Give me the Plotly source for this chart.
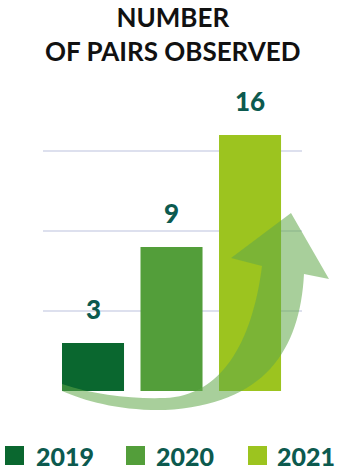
import plotly.graph_objects as go

# Chart data
years = ["2019", "2020", "2021"]
pairs = [3, 9, 16]
bar_colors = ["#0a672f", "#539e3a", "#9cc41f"]
grid_values = [0, 5, 10, 15]

TEAL = "#0c5a4f"
FONT = "Lato"

W, H = 337, 472
L, R, T, B = 43, 35, 100, 81
PLOT_W = W - L - R
PLOT_H = H - T - B


def px(x, y):
    """Convert figure pixel position to paper coordinates."""
    return (x - L) / PLOT_W, (H - B - y) / PLOT_H


def path_from(cmds):
    out = []
    for cmd, pts in cmds:
        coords = " ".join("%.4f,%.4f" % px(*p) for p in pts)
        out.append(cmd + coords)
    return " ".join(out) + " Z"


fig = go.Figure(
    go.Bar(
        x=years,
        y=pairs,
        marker=dict(color=bar_colors, line=dict(width=0)),
        width=0.79,
        showlegend=False,
        hoverinfo="x+y",
    )
)

# Value labels above each bar
for i, v in enumerate(pairs):
    fig.add_annotation(
        x=i, y=v, xref="x", yref="y",
        text=str(v), showarrow=False,
        yanchor="bottom", yshift=16,
        font=dict(family=FONT, size=26, color=TEAL, weight=900),
    )

# Sweeping growth arrow
arrow = path_from([
    ("M", [(62, 384)]),
    ("C", [(95, 395), (130, 399), (165, 398)]),
    ("C", [(220, 396), (252, 345), (262, 266)]),
    ("L", [(231, 258)]),
    ("L", [(291, 213)]),
    ("L", [(329, 279)]),
    ("L", [(304, 274)]),
    ("C", [(300, 350), (265, 405), (165, 410)]),
    ("C", [(120, 411), (85, 401), (62, 391)]),
])
fig.add_shape(
    type="path", path=arrow, xref="paper", yref="paper",
    fillcolor="rgba(96,168,72,0.55)", line=dict(width=0), layer="above",
)

# Legend: coloured squares with year labels
legend_sq_x = [5, 126, 248]
legend_txt_x = [36, 156, 277]
for yr, c, sx, tx in zip(years, bar_colors, legend_sq_x, legend_txt_x):
    x0, y0 = px(sx, 465)
    x1, y1 = px(sx + 19, 446)
    fig.add_shape(type="rect", xref="paper", yref="paper",
                  x0=x0, y0=y0, x1=x1, y1=y1,
                  fillcolor=c, line=dict(width=0))
    ax, ay = px(tx - 2, 456)
    fig.add_annotation(
        x=ax, y=ay, xref="paper", yref="paper",
        text=yr, showarrow=False, xanchor="left", yanchor="middle",
        font=dict(family=FONT, size=25, color=TEAL, weight=900),
    )

# Two-line heading
tx, ty = px(173, -1)
fig.add_annotation(
    x=tx, y=ty, xref="paper", yref="paper",
    text="NUMBER<br>OF PAIRS OBSERVED", showarrow=False,
    xanchor="center", yanchor="top", align="center",
    font=dict(family=FONT, size=26, color="#111111", weight="bold"),
)

fig.update_layout(
    width=W, height=H,
    margin=dict(l=L, r=R, t=T, b=B),
    paper_bgcolor="white", plot_bgcolor="white",
    xaxis=dict(
        type="category",
        range=[-0.637, 2.662], showticklabels=False, showgrid=False,
        zeroline=False, showline=False, ticks="",
    ),
    yaxis=dict(
        range=[0, PLOT_H / 16], tickvals=grid_values, showticklabels=False,
        showgrid=True, gridcolor="#dde0ee", gridwidth=2,
        zeroline=False, showline=False, ticks="",
    ),
    bargap=0.21,
)

fig.write_html("out.html")
